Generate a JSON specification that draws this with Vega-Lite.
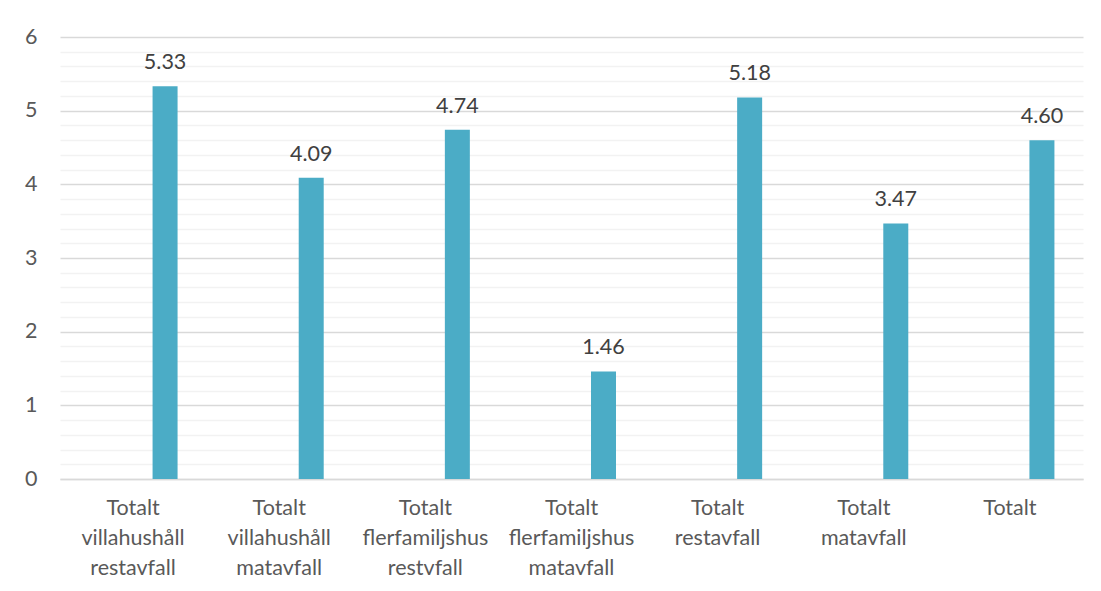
{
  "$schema": "https://vega.github.io/schema/vega-lite/v6.json",
  "autosize": "none",
  "padding": {"left": 60, "top": 37, "right": 18, "bottom": 112},
  "width": 1023,
  "height": 442,
  "background": "white",
  "config": {"view": {"stroke": null}, "font": "Lato"},
  "data": {"values": [
    {"kategori": "Totalt villahushåll restavfall", "varde": 5.33},
    {"kategori": "Totalt villahushåll matavfall", "varde": 4.09},
    {"kategori": "Totalt flerfamiljshus restvfall", "varde": 4.74},
    {"kategori": "Totalt flerfamiljshus matavfall", "varde": 1.46},
    {"kategori": "Totalt restavfall", "varde": 5.18},
    {"kategori": "Totalt matavfall", "varde": 3.47},
    {"kategori": "Totalt", "varde": 4.60}
  ]},
  "encoding": {
    "x": {"field": "kategori", "type": "nominal", "sort": null,
      "scale": {"paddingInner": 0, "paddingOuter": 0},
      "axis": {"title": null, "labelAngle": 0, "ticks": false, "domainColor": "#d9d9d9", "domainWidth": 1.5,
        "labelExpr": "split(datum.label, ' ')", "labelFontSize": 21.5, "labelColor": "#595959",
        "labelBaseline": "top", "labelPadding": 18, "labelLineHeight": 30, "labelLimit": 0}},
    "y": {"field": "varde", "type": "quantitative",
      "scale": {"domain": [0, 6], "nice": false},
      "axis": {"title": null, "domain": false, "ticks": false,
        "values": [0,0.2,0.4,0.6,0.8,1,1.2,1.4,1.6,1.8,2,2.2,2.4,2.6,2.8,3,3.2,3.4,3.6,3.8,4,4.2,4.4,4.6,4.8,5,5.2,5.4,5.6,5.8,6],
        "labelExpr": "datum.value % 1 === 0 ? format(datum.value, 'd') : ''",
        "gridColor": {"condition": {"test": "datum.value % 1 === 0", "value": "#d9d9d9"}, "value": "#f2f2f2"},
        "gridWidth": 1.5,
        "labelFontSize": 21.5, "labelColor": "#595959", "labelPadding": 23}}
  },
  "layer": [
    {"mark": {"type": "bar", "width": 25, "xOffset": 32, "color": "#4bacc6"}},
    {"mark": {"type": "text", "xOffset": 32, "dy": -17, "baseline": "alphabetic", "fontSize": 21.5, "color": "#404040"},
      "encoding": {"text": {"field": "varde", "type": "quantitative", "format": ".2f"}}}
  ]
}
